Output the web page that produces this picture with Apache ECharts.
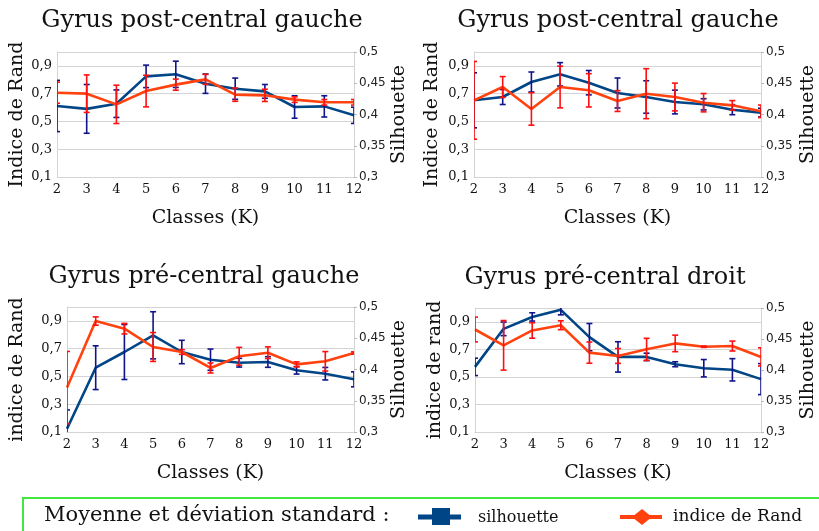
<!DOCTYPE html>
<html>
<head>
<meta charset="utf-8">
<script src="https://cdn.jsdelivr.net/npm/echarts@6/dist/echarts.min.js"></script>
<style>
  html, body { margin: 0; padding: 0; background: #ffffff; }
  #chart { width: 819px; height: 531px; }
</style>
</head>
<body>
<div id="chart"></div>
<script>
// Number of clusters K
const classes = ['2', '3', '4', '5', '6', '7', '8', '9', '10', '11', '12'];

const panelTitles = [
  'Gyrus post-central gauche',
  'Gyrus post-central gauche',
  'Gyrus pré-central gauche',
  'Gyrus pré-central droit'
];
const randAxisNames = ['Indice de Rand', 'Indice de Rand', 'indice de Rand', 'indice de rand'];
const silAxisName = 'Silhouette';
const xAxisName = 'Classes (K)';

// Panel 1 : Gyrus post-central gauche
const randMean1 = [0.707, 0.700, 0.623, 0.719, 0.765, 0.803, 0.693, 0.688, 0.657, 0.638, 0.638];
const randStd1  = [0.076, 0.135, 0.138, 0.114, 0.040, 0.036, 0.048, 0.044, 0.020, 0.020, 0.020];
const silMean1  = [0.4136, 0.409, 0.4173, 0.461, 0.4643, 0.4493, 0.4413, 0.437, 0.412, 0.413, 0.3987];
const silStd1   = [0.041, 0.039, 0.022, 0.018, 0.021, 0.0155, 0.017, 0.011, 0.018, 0.017, 0.013];

// Panel 2 : Gyrus post-central gauche
const randMean2 = [0.652, 0.748, 0.590, 0.748, 0.724, 0.647, 0.700, 0.676, 0.635, 0.616, 0.573];
const randStd2  = [0.280, 0.075, 0.117, 0.150, 0.120, 0.075, 0.180, 0.100, 0.066, 0.034, 0.045];
const silMean2  = [0.4227, 0.428, 0.452, 0.4643, 0.4509, 0.4344, 0.428, 0.420, 0.4163, 0.4077, 0.403];
const silStd2   = [0.044, 0.012, 0.016, 0.0187, 0.0195, 0.024, 0.026, 0.019, 0.009, 0.008, 0.007];

// Panel 3 : Gyrus pré-central gauche
const randMean3 = [0.420, 0.899, 0.844, 0.712, 0.676, 0.561, 0.645, 0.671, 0.587, 0.609, 0.669];
const randStd3  = [0.260, 0.030, 0.038, 0.104, 0.017, 0.036, 0.064, 0.042, 0.018, 0.070, 0.008];
const silMean3  = [0.3053, 0.4029, 0.428, 0.4547, 0.428, 0.4157, 0.4109, 0.412, 0.3987, 0.3933, 0.3843];
const silStd3   = [0.030, 0.035, 0.044, 0.0377, 0.0187, 0.017, 0.007, 0.0085, 0.006, 0.010, 0.012];

// Panel 4 : Gyrus pré-central droit
const randMean4 = [0.844, 0.729, 0.837, 0.875, 0.676, 0.652, 0.700, 0.743, 0.719, 0.724, 0.645];
const randStd4  = [0.090, 0.180, 0.056, 0.032, 0.077, 0.054, 0.080, 0.060, 0.005, 0.036, 0.066];
const silMean4  = [0.405, 0.4664, 0.4856, 0.497, 0.453, 0.4211, 0.4211, 0.4093, 0.4029, 0.4003, 0.3853];
const silStd4   = [0.014, 0.011, 0.0067, 0.008, 0.022, 0.0245, 0.006, 0.004, 0.014, 0.018, 0.025];

const panels = [
  { randMean: randMean1, randStd: randStd1, silMean: silMean1, silStd: silStd1 },
  { randMean: randMean2, randStd: randStd2, silMean: silMean2, silStd: silStd2 },
  { randMean: randMean3, randStd: randStd3, silMean: silMean3, silStd: silStd3 },
  { randMean: randMean4, randStd: randStd4, silMean: silMean4, silStd: silStd4 }
];

const legendLabel = 'Moyenne et déviation standard :';
const silLegend = 'silhouette';
const randLegend = 'indice de Rand';

// Styling
const SERIF = '"DejaVu Serif", "Liberation Serif", serif';
const SANS = '"DejaVu Sans", "Liberation Sans", sans-serif';
const BLUE = '#004586';
const ORANGE = '#ff420e';
const BLUE_ERR = '#10148a';
const RED_ERR = '#ff1010';
const GRID_GREY = '#d4d4d4';

// Plot rectangles for the four panels
const layout = [
  { left: 57,  top: 52,  width: 297, height: 125, titleX: 202, titleY: 21,  yNameGap: 30, rNameGap: 34 },
  { left: 474, top: 52,  width: 292, height: 125, titleX: 618, titleY: 21,  yNameGap: 32, rNameGap: 38 },
  { left: 67,  top: 307, width: 287, height: 125, titleX: 204, titleY: 277, yNameGap: 40, rNameGap: 34 },
  { left: 475, top: 308, width: 291, height: 124, titleX: 605, titleY: 278, yNameGap: 30, rNameGap: 38 }
];

function errorBars(color) {
  return function (params, api) {
    const idx = api.value(0);
    const lo = api.coord([idx, api.value(1)]);
    const hi = api.coord([idx, api.value(2)]);
    const cap = 3;
    const style = { stroke: color, lineWidth: 1.6 };
    return {
      type: 'group',
      children: [
        { type: 'line', shape: { x1: lo[0], y1: lo[1], x2: hi[0], y2: hi[1] }, style: style },
        { type: 'line', shape: { x1: lo[0] - cap, y1: lo[1], x2: lo[0] + cap, y2: lo[1] }, style: style },
        { type: 'line', shape: { x1: hi[0] - cap, y1: hi[1], x2: hi[0] + cap, y2: hi[1] }, style: style }
      ]
    };
  };
}

function errData(mean, std) {
  return mean.map((m, i) => [i, m - std[i], m + std[i]]);
}

const grid = [], xAxis = [], yAxis = [], series = [], graphic = [];

panels.forEach((p, i) => {
  const L = layout[i];
  grid.push({ left: L.left, top: L.top, width: L.width, height: L.height });

  xAxis.push({
    type: 'category', gridIndex: i, data: classes, boundaryGap: false,
    name: xAxisName, nameLocation: 'middle', nameGap: 32,
    nameTextStyle: { fontFamily: SERIF, fontSize: 19, color: '#111' },
    axisLine: { lineStyle: { color: GRID_GREY } },
    axisTick: { show: false },
    axisLabel: { fontFamily: SERIF, fontSize: 13, color: '#111', margin: 6 },
    splitLine: { show: false }
  });

  // Rand index scale (left)
  yAxis.push({
    type: 'value', gridIndex: i, position: 'left', min: 0.1, max: 1.0, interval: 0.2,
    name: randAxisNames[i], nameLocation: 'middle', nameGap: L.yNameGap, nameRotate: 90,
    nameTextStyle: { fontFamily: SERIF, fontSize: 19, color: '#111' },
    axisLine: { show: true, lineStyle: { color: GRID_GREY } },
    axisTick: { show: false },
    axisLabel: {
      fontFamily: SERIF, fontSize: 13, color: '#111', margin: 5, showMaxLabel: false,
      formatter: v => v.toFixed(1).replace('.', ',')
    },
    splitLine: { show: true, lineStyle: { color: GRID_GREY, width: 1 } }
  });

  // Silhouette scale (right)
  yAxis.push({
    type: 'value', gridIndex: i, position: 'right', min: 0.3, max: 0.5, interval: 0.05,
    name: silAxisName, nameLocation: 'middle', nameGap: L.rNameGap, nameRotate: 90,
    nameTextStyle: { fontFamily: SERIF, fontSize: 19, color: '#111' },
    axisLine: { show: true, lineStyle: { color: GRID_GREY } },
    axisTick: { show: true, length: 3, lineStyle: { color: '#bbb' } },
    axisLabel: {
      fontFamily: SANS, fontSize: 12, color: '#222', margin: 5,
      formatter: v => String(+v.toFixed(2)).replace('.', ',')
    },
    splitLine: { show: false }
  });

  series.push({
    type: 'line', name: silLegend, xAxisIndex: i, yAxisIndex: 2 * i + 1,
    data: p.silMean, showSymbol: false, silent: true,
    lineStyle: { color: BLUE, width: 2.6 }, z: 2
  });
  series.push({
    type: 'custom', xAxisIndex: i, yAxisIndex: 2 * i + 1, clip: true, silent: true,
    renderItem: errorBars(BLUE_ERR), encode: { x: 0, y: [1, 2] },
    data: errData(p.silMean, p.silStd), z: 3
  });
  series.push({
    type: 'line', name: randLegend, xAxisIndex: i, yAxisIndex: 2 * i,
    data: p.randMean, showSymbol: false, silent: true,
    lineStyle: { color: ORANGE, width: 2.6 }, z: 4
  });
  series.push({
    type: 'custom', xAxisIndex: i, yAxisIndex: 2 * i, clip: true, silent: true,
    renderItem: errorBars(RED_ERR), encode: { x: 0, y: [1, 2] },
    data: errData(p.randMean, p.randStd), z: 5
  });

  graphic.push({
    type: 'text', x: L.titleX, y: L.titleY,
    style: {
      text: panelTitles[i], font: '24px ' + SERIF, fill: '#111',
      textAlign: 'center', textVerticalAlign: 'middle'
    }
  });
});

// Legend box at the bottom
graphic.push(
  { type: 'rect', shape: { x: 23, y: 498, width: 820, height: 60 },
    style: { fill: 'none', stroke: '#3ee83e', lineWidth: 2 } },
  { type: 'text', x: 44, y: 516,
    style: { text: legendLabel, font: '21px ' + SERIF, fill: '#111', textVerticalAlign: 'middle' } },
  { type: 'line', shape: { x1: 418, y1: 517, x2: 461, y2: 517 },
    style: { stroke: BLUE, lineWidth: 5 } },
  { type: 'rect', shape: { x: 432, y: 508, width: 18, height: 17 },
    style: { fill: BLUE } },
  { type: 'text', x: 478, y: 518,
    style: { text: silLegend, font: '16px ' + SERIF, fill: '#111', textVerticalAlign: 'middle' } },
  { type: 'line', shape: { x1: 620, y1: 517, x2: 662, y2: 517 },
    style: { stroke: ORANGE, lineWidth: 4 } },
  { type: 'polygon', shape: { points: [[642, 509], [652, 517], [642, 525], [632, 517]] },
    style: { fill: ORANGE } },
  { type: 'text', x: 673, y: 517,
    style: { text: randLegend, font: '17px ' + SERIF, fill: '#111', textVerticalAlign: 'middle' } }
);

const chart = echarts.init(document.getElementById('chart'), null, { renderer: 'canvas' });
chart.setOption({
  animation: false,
  backgroundColor: '#ffffff',
  grid: grid,
  xAxis: xAxis,
  yAxis: yAxis,
  series: series,
  graphic: graphic
});
</script>
</body>
</html>
